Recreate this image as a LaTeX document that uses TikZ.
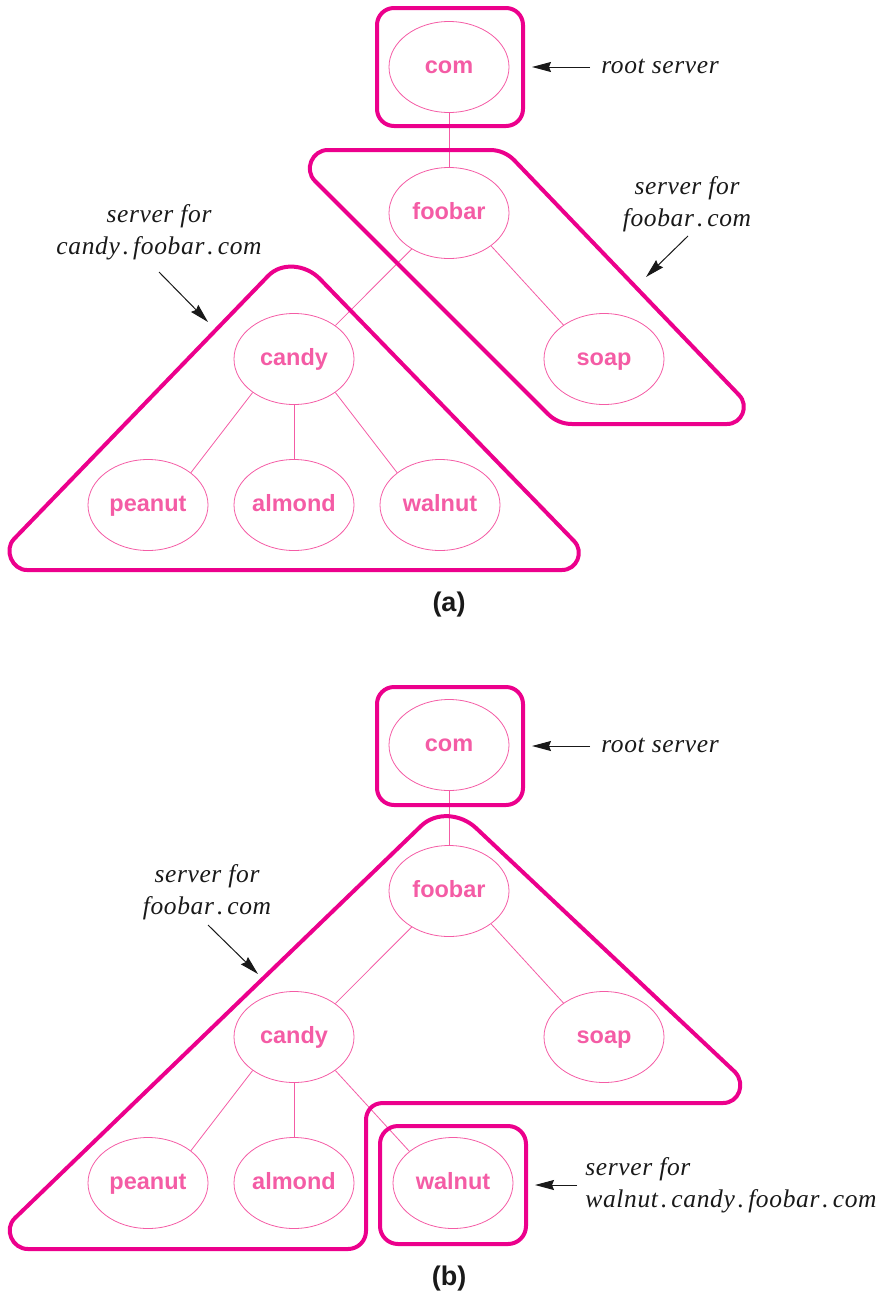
\documentclass[tikz,border=0pt]{standalone}
\usepackage{fontspec}
\setmainfont{Liberation Serif}
\setsansfont{Liberation Sans}
\newfontfamily\labelfont[LetterSpace=2.5]{Liberation Serif}
\usetikzlibrary{shapes.geometric,arrows.meta}
\definecolor{regionpink}{HTML}{EC008C}
\definecolor{nodepink}{HTML}{F45CA5}
\tikzset{
  dn/.style={draw=nodepink,line width=0.8pt,ellipse,minimum width=120pt,minimum height=91pt,inner sep=0pt,
    text=nodepink,font=\sffamily\bfseries\fontsize{23.5}{23.5}\selectfont,text height=12pt,text depth=0pt},
  tree/.style={draw=nodepink,line width=0.8pt},
  region/.style={draw=regionpink,line width=4pt,line join=round},
  note/.style={font=\labelfont\itshape\fontsize{25.5}{32}\selectfont,align=center,inner sep=0pt,text=black!90},
  caption/.style={font=\sffamily\bfseries\fontsize{27}{27}\selectfont,inner sep=0pt,text=black!90},
  pointer/.style={draw=black!90,line width=1pt,-{Stealth[length=19pt,width=10pt,inset=2pt]}}
}
\newcommand{\dt}{\kern3pt.\kern4pt}
\begin{document}
\begin{tikzpicture}[x=1pt,y=-1pt]
\useasboundingbox (0,0) rectangle (892,1296);
% (a)
\node[dn] (acom) at (449,67) {com};
\node[dn] (afoobar) at (449,213) {foobar};
\node[dn] (acandy) at (294,359) {candy};
\node[dn] (asoap) at (604,359) {soap};
\node[dn] (apeanut) at (148,505) {peanut};
\node[dn] (aalmond) at (294,505) {almond};
\node[dn] (awalnut) at (440,505) {walnut};
\draw[tree] (acom)--(afoobar);
\draw[tree] (afoobar.224)--(acandy.39);
\draw[tree] (afoobar.322)--(asoap.140);
\draw[tree] (acandy.219)--(apeanut.37);
\draw[tree] (acandy)--(aalmond);
\draw[tree] (acandy.321)--(awalnut.143);
\draw[region,rounded corners=17pt] (377,8) rectangle (523,126);
\draw[region] (328,150) -- (490,150)
  .. controls (499,150) and (507.5,153.5) .. (514,160)
  -- (739,395)
  .. controls (749.4,405.8) and (742,424) .. (727,424)
  -- (572,424)
  .. controls (563,424) and (554.5,420.5) .. (548,414)
  -- (315,181)
  .. controls (303.7,169.7) and (312,150) .. (328,150) -- cycle;
\draw[region] (27,570) -- (562,570)
  .. controls (577,570) and (584.4,551.8) .. (574,541)
  -- (320,279)
  .. controls (306.2,264.6) and (281.8,261.6) .. (268,276)
  -- (14,539)
  .. controls (3.6,549.8) and (12,570) .. (27,570) -- cycle;
\node[note] (aroot) at (660,66) {root server};
\node[note] (afoonote) at (687,204) {server for\\foobar\dt com};
\node[note] (acandynote) at (159,232) {server for\\candy\dt foobar\dt com};
\coordinate (arootend) at (532,67);
\coordinate (arootstart) at (590,67);
\coordinate (afooend) at (646,277);
\coordinate (afoostart) at (688,236);
\coordinate (acandyend) at (208,322);
\coordinate (acandystart) at (159,272);
\draw[pointer] (arootstart)--(arootend);
\draw[pointer] (afoostart)--(afooend);
\draw[pointer] (acandystart)--(acandyend);
\node[caption] (capa) at (449,605) {(a)};
% (b)
\node[dn] (bcom) at (449,745) {com};
\node[dn] (bfoobar) at (449,891) {foobar};
\node[dn] (bcandy) at (294,1037) {candy};
\node[dn] (bsoap) at (604,1037) {soap};
\node[dn] (bpeanut) at (148,1183) {peanut};
\node[dn] (balmond) at (294,1183) {almond};
\node[dn] (bwalnut) at (453,1183) {walnut};
\draw[tree] (bcom)--(bfoobar);
\draw[tree] (bfoobar.224)--(bcandy.39);
\draw[tree] (bfoobar.322)--(bsoap.140);
\draw[tree] (bcandy.219)--(bpeanut.37);
\draw[tree] (bcandy)--(balmond);
\draw[tree] (bcandy.321)--(bwalnut.144);
\draw[region,rounded corners=17pt] (377,687) rectangle (523,805);
\draw[region,rounded corners=18pt] (380,1126) rectangle (526,1244);
\draw[region] (28,1249) -- (348,1249)
  .. controls (358,1249) and (366,1241) .. (366,1231)
  -- (366,1120)
  .. controls (366,1110.6) and (372.6,1103) .. (383,1103)
  -- (723,1103)
  .. controls (739,1103) and (745.9,1083.7) .. (735,1072)
  -- (476,828)
  .. controls (460.7,813.7) and (436,811.5) .. (421,826)
  -- (15,1218)
  .. controls (3.5,1229) and (12,1249) .. (28,1249) -- cycle;
\node[note] (bfoonote) at (207,892) {server for\\foobar\dt com};
\node[note] (broot) at (660,745) {root server};
\node[note,align=left] (bwalnote) at (731,1185) {server for\\walnut\dt candy\dt foobar\dt com};
\coordinate (brootend) at (532,746);
\coordinate (brootstart) at (590,746);
\coordinate (bfooend) at (258,974);
\coordinate (bfoostart) at (208,925);
\coordinate (bwalend) at (535,1185);
\coordinate (bwalstart) at (577,1185);
\draw[pointer] (brootstart)--(brootend);
\draw[pointer] (bfoostart)--(bfooend);
\draw[pointer] (bwalstart)--(bwalend);
\node[caption] (capb) at (449,1279) {(b)};
\end{tikzpicture}
\end{document}
